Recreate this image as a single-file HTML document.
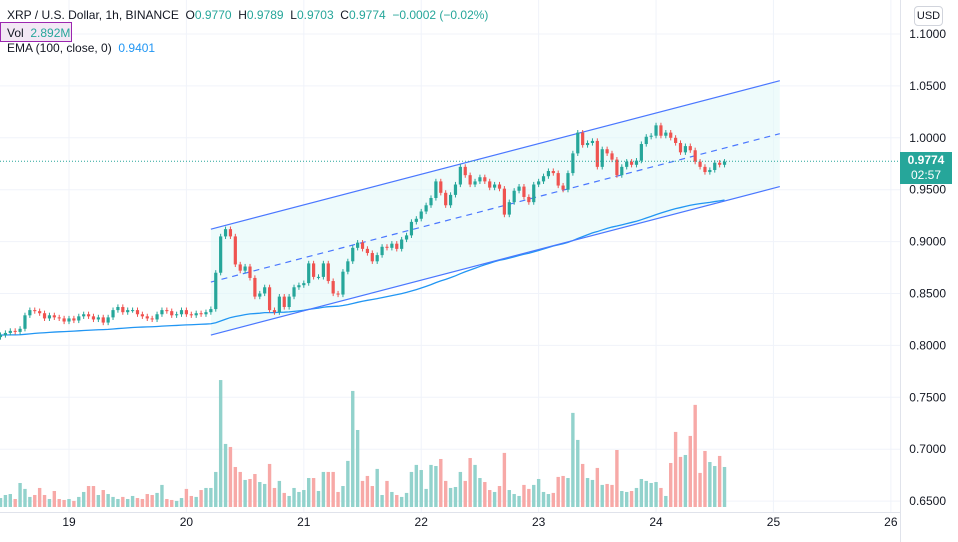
<!DOCTYPE html>
<html><head><meta charset="utf-8"><style>
html,body{margin:0;padding:0;background:#fff;}
body{width:958px;height:542px;overflow:hidden;font-family:"Liberation Sans",sans-serif;position:relative;}
svg{position:absolute;left:0;top:0;}
.hdr{position:absolute;left:7px;font-size:12px;color:#131722;white-space:nowrap;}
.g{color:#26a69a;}
</style></head><body>
<svg id="chart" width="958" height="542" viewBox="0 0 958 542"></svg>
<div class="hdr" style="top:8px">XRP / U.S. Dollar, 1h, BINANCE&nbsp; O<span class="g">0.9770</span>&nbsp; H<span class="g">0.9789</span>&nbsp; L<span class="g">0.9703</span>&nbsp; C<span class="g">0.9774</span>&nbsp; <span class="g">−0.0002 (−0.02%)</span></div>
<div style="position:absolute;left:0;top:22px;width:72px;height:20px;border:1px solid #9c27b0;background:#f3e8f5;font-size:12px;line-height:20px;color:#131722;padding-left:6px;box-sizing:border-box;">Vol&nbsp; <span class="g">2.892M</span></div>
<div class="hdr" style="top:41px">EMA (100, close, 0)&nbsp; <span style="color:#2196f3">0.9401</span></div>
<div style="position:absolute;left:914px;top:6px;width:27px;height:18px;border:1px solid #d1d4dc;border-radius:4px;font-size:11px;line-height:18px;text-align:center;color:#131722;">USD</div>
<div style="position:absolute;left:900px;top:152px;width:52px;height:32px;background:#26a69a;color:#fff;font-size:12px;font-weight:bold;text-align:center;line-height:15px;padding-top:1px;box-sizing:border-box;">0.9774<br><span style="font-weight:normal">02:57</span></div>
<script>
const closes=[0.810,0.812,0.814,0.813,0.816,0.829,0.834,0.833,0.831,0.826,0.829,0.827,0.826,0.823,0.826,0.824,0.828,0.830,0.828,0.825,0.827,0.822,0.827,0.834,0.837,0.832,0.834,0.834,0.830,0.828,0.826,0.825,0.830,0.834,0.833,0.829,0.830,0.834,0.830,0.829,0.831,0.830,0.832,0.835,
0.870,0.905,0.912,0.905,0.878,0.872,
0.876,0.865,0.847,0.850,0.856,0.834,0.832,0.847,0.837,0.847,0.856,0.858,0.860,0.879,0.866,0.866,0.879,0.862,0.850,0.849,0.871,0.881,0.894,0.899,0.893,0.889,0.881,0.887,0.895,0.894,0.898,0.893,0.902,0.906,0.919,0.922,0.929,0.935,0.942,0.958,0.947,0.935,0.945,0.955,0.972,0.964,0.955,0.958,0.962,
0.958,0.952,0.955,0.951,0.926,0.938,0.949,0.953,0.943,0.938,0.955,0.958,0.963,0.968,0.966,0.954,0.950,0.966,0.985,1.005,0.993,0.995,0.997,0.972,0.989,0.985,0.979,0.964,0.972,0.977,0.974,0.978,0.994,1.001,1.002,1.012,1.002,1.005,1.000,0.995,0.986,0.992,0.988,0.977,0.972,0.967,0.969,0.976,0.974,0.977];
const volumes=[0.65,0.87,0.94,0.58,1.74,1.31,0.73,0.87,1.38,0.87,0.58,1.16,0.58,0.51,0.58,0.44,0.73,1.09,1.52,1.52,0.87,1.23,0.94,0.73,0.58,0.73,0.58,0.8,0.65,0.58,0.94,0.87,1.02,1.6,0.58,0.51,0.44,0.65,1.31,0.8,0.73,1.23,1.38,1.38,2.54,9.2,4.57,4.35,2.9,2.54,1.96,2.03,2.39,1.81,1.67,3.12,1.38,1.89,1.02,0.8,1.38,1.09,1.23,2.1,2.1,1.16,2.54,2.54,2.54,1.09,1.52,3.34,8.41,5.58,1.89,2.25,
1.52,2.76,0.87,1.89,1.09,0.87,0.73,1.02,2.54,3.05,2.68,1.31,3.05,2.97,3.48,1.89,1.38,1.45,2.54,1.89,3.55,3.05,2.1,1.81,1.23,1.09,1.52,3.92,1.23,0.94,0.8,1.6,1.31,1.6,2.03,1.09,0.94,1.02,2.18,2.25,2.1,6.82,4.86,3.12,2.1,1.96,2.83,1.6,1.67,1.6,4.13,1.16,1.09,1.16,1.38,2.03,1.89,1.74,1.81,1.38,0.8,3.19,5.44,3.63,3.77,5.15,7.4,2.47,4.06,3.26,2.97,3.7,2.9];
const priceTicks=["1.1000","1.0500","1.0000","0.9500","0.9000","0.8500","0.8000","0.7500","0.7000","0.6500"];
const dayLabels=["19","20","21","22","23","24","25","26"];
const channelUpper=[0.912,1.055];
const channelLower=[0.810,0.953];
const channelHours=[29,145.3];
const lastPrice=0.9774;
const startHour=-14;

const NS="http://www.w3.org/2000/svg";
const svg=document.getElementById('chart');
function el(tag,attrs,parent){const e=document.createElementNS(NS,tag);for(const k in attrs)e.setAttribute(k,attrs[k]);(parent||svg).appendChild(e);return e;}
const yP=p=>34+(1.1-p)*1038;
const xT=t=>69+t*4.892;
const xI=i=>xT(startHour+i);
const volBase=507, volScale=13.8;
const yV=v=>volBase-v*volScale;

// grid
const grid=el('g',{});


priceTicks.forEach(s=>{const y=yP(parseFloat(s));el('line',{x1:0,x2:900,y1:y,y2:y,stroke:'#f0f3fa','stroke-width':1},grid);});
dayLabels.forEach((d,k)=>{const x=xT(k*24);el('line',{x1:x,x2:x,y1:0,y2:512,stroke:'#f0f3fa','stroke-width':1},grid);});

// channel fill
const cf=el('polygon',{points:[[xT(channelHours[0]),yP(channelUpper[0])],[xT(channelHours[1]),yP(channelUpper[1])],[xT(channelHours[1]),yP(channelLower[1])],[xT(channelHours[0]),yP(channelLower[0])]].map(p=>p.join(',')).join(' '),fill:'#e0f7f7','fill-opacity':0.55});



// volumes
const vg=el('g',{});


volumes.forEach((v,i)=>{const o=i>0?closes[i-1]:closes[i];const up=closes[i]>=o;
 const r=el('rect',{x:xI(i)-1.7,y:yV(v),width:3.4,height:volBase-yV(v),fill:up?'#92d2cc':'#f7a9a7'},vg);
 
 });

// EMA
let ema=closes[0];const emaPts=[];const a=2/101;
closes.forEach((c,i)=>{ema=ema+a*(c-ema);emaPts.push(xI(i)+','+yP(ema));});
const emaL=el('polyline',{points:emaPts.join(' '),fill:'none',stroke:'#2196f3','stroke-width':1.3});



// channel lines
const mid=[(channelUpper[0]+channelLower[0])/2,(channelUpper[1]+channelLower[1])/2];
[[channelUpper,'channel-upper',''],[channelLower,'channel-lower',''],[mid,'channel-middle','6,5']].forEach(([v,n,d])=>{
 const l=el('line',{x1:xT(channelHours[0]),y1:yP(v[0]),x2:xT(channelHours[1]),y2:yP(v[1]),stroke:'#4a77ff','stroke-width':1.2,'stroke-dasharray':d});
 
 });

// candles
const cg=el('g',{});


closes.forEach((c,i)=>{const o=i>0?closes[i-1]:c-0.002;const up=c>=o;const col=up?'#26a69a':'#ef5350';
 const hi=Math.max(o,c)+0.0025,lo=Math.min(o,c)-0.0025;const x=xI(i);
 const g=el('g',{},cg);
 
 
 el('line',{x1:x,x2:x,y1:yP(hi),y2:yP(lo),stroke:col,'stroke-width':1},g);
 const t=Math.min(yP(o),yP(c));el('rect',{x:x-1.6,y:t,width:3.2,height:Math.max(1,Math.abs(yP(o)-yP(c))),fill:col},g);});

// last price line
const lp=el('line',{x1:0,x2:900,y1:yP(lastPrice),y2:yP(lastPrice),stroke:'#26a69a','stroke-width':1,'stroke-dasharray':'1,2'});



// axes
el('line',{x1:900.5,x2:900.5,y1:0,y2:542,stroke:'#e0e3eb'});
el('line',{x1:0,x2:900,y1:512.5,y2:512.5,stroke:'#e0e3eb'});
priceTicks.forEach(s=>{const t=el('text',{x:946,y:yP(parseFloat(s))+4,'text-anchor':'end','font-size':12,fill:'#131722','font-family':'Liberation Sans, sans-serif'});t.textContent=s;
 
 });
dayLabels.forEach((d,k)=>{const t=el('text',{x:xT(k*24),y:526,'text-anchor':'middle','font-size':12,fill:'#131722','font-family':'Liberation Sans, sans-serif'});t.textContent=d;
 
 });
</script>
</body></html>
